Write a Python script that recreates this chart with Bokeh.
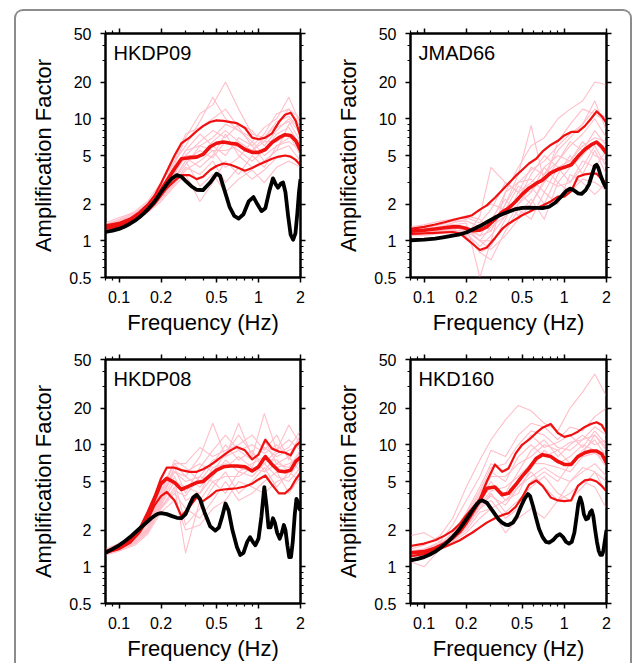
from bokeh.plotting import figure
from bokeh.models import (Range1d, FixedTicker, NumeralTickFormatter,
                          CustomJSTickFormatter, LogAxis, Label)
from bokeh.layouts import row, column
from bokeh.embed import file_html
from bokeh.resources import INLINE

# ---------------- data ----------------
x_ticks = [0.1, 0.2, 0.5, 1, 2]
x_minor = [0.08, 0.09, 0.3, 0.4, 0.6, 0.7, 0.8, 0.9]
y_ticks = [0.5, 1, 2, 5, 10, 20, 50]
y_minor = [0.6, 0.7, 0.8, 0.9, 3, 4, 6, 7, 8, 9, 30, 40]

stations = ["HKDP09", "JMAD66", "HKDP08", "HKD160"]

# frequency grid of the red (statistics) curves
freq_red = [0.08, 0.1, 0.12, 0.14, 0.16, 0.18, 0.2, 0.22, 0.25, 0.28, 0.32, 0.36, 0.4,
            0.45, 0.5, 0.56, 0.63, 0.7, 0.8, 0.9, 1.0, 1.12, 1.25, 1.4, 1.55, 1.7, 1.85, 2.0]
# frequency grid of the individual (pink) curves
freq_pink = [0.08, 0.1, 0.13, 0.16, 0.2, 0.25, 0.3, 0.38, 0.47, 0.58, 0.72, 0.9,
             1.1, 1.35, 1.65, 2.0]

# ---- HKDP09 ----
upper_hkdp09 = [1.34, 1.4, 1.52, 1.72, 1.98, 2.35, 2.95, 3.7, 5.0, 6.3, 7.0, 7.9, 8.7, 9.4,
                9.7, 9.6, 9.4, 9.2, 8.4, 7.0, 6.8, 7.0, 7.6, 9.4, 10.8, 11.2, 9.6, 7.1]
median_hkdp09 = [1.29, 1.35, 1.46, 1.63, 1.85, 2.15, 2.6, 3.1, 3.9, 4.7, 4.8, 4.85, 5.1, 5.9,
                 6.3, 6.45, 6.3, 6.2, 5.6, 5.3, 5.3, 5.6, 6.4, 7.0, 7.4, 7.3, 6.6, 5.5]
lower_hkdp09 = [1.25, 1.3, 1.4, 1.55, 1.75, 2.0, 2.35, 2.7, 3.1, 3.45, 3.45, 3.2, 3.35, 3.8,
                4.1, 4.3, 4.2, 4.0, 3.75, 3.95, 4.2, 4.45, 4.7, 4.9, 5.0, 4.9, 4.6, 4.16]
black_f_hkdp09 = [0.08, 0.09, 0.1, 0.11, 0.12, 0.13, 0.14, 0.15, 0.16, 0.18, 0.2, 0.22, 0.24,
                  0.26, 0.28, 0.3, 0.33, 0.36, 0.4, 0.45, 0.5, 0.53, 0.57, 0.62, 0.67, 0.72,
                  0.78, 0.85, 0.92, 0.98, 1.05, 1.12, 1.2, 1.27, 1.33, 1.38, 1.45, 1.5, 1.56,
                  1.63, 1.7, 1.77, 1.84, 1.9, 1.95, 2.0]
black_v_hkdp09 = [1.18, 1.21, 1.25, 1.31, 1.38, 1.46, 1.56, 1.67, 1.8, 2.1, 2.5, 2.9, 3.25,
                  3.45, 3.35, 3.1, 2.8, 2.62, 2.6, 3.0, 3.55, 3.4, 2.6, 1.9, 1.6, 1.52,
                  1.65, 2.1, 2.28, 2.0, 1.75, 1.85, 2.6, 3.25, 2.9, 2.72, 2.95, 3.0, 2.5,
                  1.6, 1.12, 1.02, 1.15, 1.7, 2.5, 3.2]
pink_hkdp09 = [
    [1.3, 1.4, 1.6, 1.95, 2.6, 4.2, 7.0, 11, 13, 20, 12, 7.5, 7.0, 9.5, 10.5, 8.0],
    [1.35, 1.5, 1.75, 2.1, 3.0, 4.5, 6.0, 9.5, 15, 10, 8.0, 6.5, 8.5, 10, 15, 9.0],
    [1.25, 1.35, 1.55, 1.8, 2.4, 3.5, 5.0, 6.5, 8.0, 7.0, 9.0, 8.0, 6.0, 8.0, 10, 7.5],
    [1.3, 1.4, 1.5, 1.8, 2.3, 3.2, 4.5, 5.5, 4.8, 6.5, 5.5, 4.5, 5.5, 7.5, 8.5, 6.0],
    [1.2, 1.3, 1.45, 1.7, 2.1, 2.8, 3.5, 2.1, 3.0, 4.5, 3.5, 5.0, 4.0, 6.0, 6.5, 5.5],
    [1.3, 1.45, 1.7, 2.0, 2.5, 3.8, 5.5, 7.5, 6.0, 5.0, 7.0, 6.0, 4.5, 5.5, 9.0, 10.5],
    [1.25, 1.4, 1.6, 1.85, 2.2, 3.0, 4.0, 3.5, 4.5, 3.0, 4.0, 3.2, 3.8, 4.8, 5.0, 4.2],
    [1.3, 1.4, 1.65, 2.0, 2.7, 4.0, 5.0, 5.0, 6.5, 8.0, 6.5, 5.5, 7.0, 9.0, 12, 10],
    [1.4, 1.55, 1.7, 1.9, 2.4, 3.3, 4.5, 2.8, 3.5, 2.5, 3.2, 3.8, 3.0, 4.0, 4.5, 4.0],
    [1.3, 1.45, 1.6, 1.8, 2.2, 2.9, 3.8, 4.5, 5.5, 4.0, 4.8, 6.5, 5.0, 6.0, 7.0, 6.5],
    [1.28, 1.38, 1.58, 1.9, 2.5, 3.6, 5.5, 6.0, 7.0, 9.0, 8.0, 7.0, 6.5, 8.5, 9.5, 6.5],
    [1.32, 1.42, 1.62, 1.95, 2.6, 4.5, 7.5, 8.5, 10, 12, 8.5, 6.0, 7.5, 11, 12, 8.5],
    [1.22, 1.33, 1.5, 1.75, 2.2, 3.2, 4.2, 6.0, 5.5, 5.5, 6.0, 5.5, 6.5, 6.5, 7.5, 5.0],
    [1.35, 1.48, 1.68, 2.0, 2.8, 3.8, 4.8, 4.0, 5.0, 7.5, 5.0, 4.0, 4.5, 5.5, 6.0, 4.5],
]

# ---- JMAD66 ----
upper_jmad66 = [1.25, 1.3, 1.36, 1.42, 1.48, 1.53, 1.57, 1.62, 1.8, 1.95, 2.25, 2.6, 2.95, 3.4,
                3.8, 4.3, 4.7, 5.4, 6.1, 6.6, 7.3, 7.8, 7.8, 8.7, 10.0, 11.5, 10.5, 9.2]
median_jmad66 = [1.2, 1.22, 1.25, 1.28, 1.3, 1.3, 1.26, 1.21, 1.22, 1.3, 1.5, 1.72, 1.85, 2.1,
                 2.4, 2.7, 2.95, 3.15, 3.6, 3.85, 4.0, 4.2, 4.9, 5.6, 6.1, 6.45, 5.9, 5.2]
lower_jmad66 = [1.14, 1.15, 1.16, 1.17, 1.18, 1.15, 1.04, 0.95, 0.84, 0.88, 1.05, 1.25, 1.38, 1.5,
                1.62, 1.72, 1.85, 1.95, 2.1, 2.3, 2.3, 2.55, 3.35, 3.5, 3.55, 3.55, 3.2, 2.95]
black_f_jmad66 = [0.08, 0.1, 0.12, 0.14, 0.16, 0.18, 0.2, 0.22, 0.25, 0.28, 0.32, 0.36, 0.4,
                  0.45, 0.5, 0.56, 0.63, 0.7, 0.78, 0.86, 0.95, 1.03, 1.1, 1.17, 1.25, 1.33,
                  1.42, 1.5, 1.58, 1.65, 1.7, 1.75, 1.82, 1.9, 2.0]
black_v_jmad66 = [1.01, 1.02, 1.04, 1.07, 1.1, 1.13, 1.17, 1.23, 1.32, 1.42, 1.55, 1.65, 1.73,
                  1.82, 1.86, 1.87, 1.86, 1.85, 1.9, 2.05, 2.3, 2.55, 2.68, 2.6, 2.45, 2.42,
                  2.6, 2.9, 3.5, 4.1, 4.2, 3.95, 3.4, 3.0, 2.68]
pink_jmad66 = [
    [1.2, 1.25, 1.3, 1.35, 1.4, 0.5, 1.0, 2.5, 4.0, 6.0, 7.0, 10, 12, 14, 20, 19],
    [1.15, 1.2, 1.25, 1.3, 1.2, 0.8, 0.9, 1.5, 2.5, 3.0, 4.0, 5.0, 4.5, 6.0, 7.0, 6.5],
    [1.1, 1.15, 1.2, 1.2, 1.1, 1.6, 4.0, 3.0, 2.5, 4.0, 3.5, 5.5, 7.0, 9.0, 14, 8.0],
    [1.25, 1.3, 1.4, 1.5, 1.6, 1.5, 1.2, 2.0, 3.5, 8.8, 3.0, 4.5, 6.0, 7.5, 10, 7.0],
    [1.1, 1.1, 1.15, 1.2, 1.1, 0.8, 0.7, 1.2, 1.8, 1.5, 2.5, 2.0, 3.5, 3.0, 2.4, 3.0],
    [1.2, 1.25, 1.3, 1.35, 1.3, 1.1, 1.5, 2.2, 1.6, 2.2, 1.5, 3.0, 4.0, 5.0, 6.5, 5.0],
    [1.15, 1.2, 1.25, 1.3, 1.25, 1.0, 1.3, 1.6, 2.2, 3.5, 5.0, 4.0, 3.0, 4.5, 4.0, 5.5],
    [1.3, 1.35, 1.45, 1.5, 1.55, 1.4, 1.8, 3.0, 2.5, 2.0, 3.0, 6.5, 9.0, 12, 11, 9.5],
    [1.1, 1.15, 1.2, 1.25, 1.3, 1.0, 1.0, 1.3, 2.0, 2.8, 2.0, 3.5, 5.0, 3.5, 5.5, 3.5],
    [1.2, 1.25, 1.3, 1.4, 1.5, 1.8, 2.0, 1.8, 2.8, 2.5, 4.0, 3.0, 2.5, 3.2, 3.0, 2.6],
    [1.2, 1.22, 1.28, 1.3, 1.25, 1.1, 1.2, 2.0, 3.0, 3.8, 4.5, 6.0, 7.5, 9.0, 12, 10],
    [1.15, 1.18, 1.22, 1.25, 1.15, 0.9, 1.1, 1.6, 2.0, 2.5, 3.5, 4.5, 6.5, 5.5, 8.0, 6.0],
    [1.25, 1.28, 1.35, 1.45, 1.45, 1.3, 1.4, 2.5, 3.0, 3.2, 2.5, 4.0, 4.5, 6.5, 5.0, 4.5],
    [1.12, 1.15, 1.2, 1.22, 1.2, 1.0, 0.85, 1.1, 1.5, 2.0, 3.2, 2.8, 3.0, 4.0, 6.0, 4.0],
]

# ---- HKDP08 ----
upper_hkdp08 = [1.35, 1.45, 1.65, 2.05, 2.8, 3.8, 5.3, 6.5, 6.5, 6.2, 6.0, 6.0, 6.3, 6.8,
                7.4, 8.2, 9.0, 9.6, 9.0, 7.6, 8.3, 11.0, 9.3, 8.8, 8.6, 8.2, 9.8, 10.6]
median_hkdp08 = [1.32, 1.42, 1.6, 1.95, 2.6, 3.6, 4.8, 5.3, 4.9, 4.3, 4.6, 4.9, 5.0, 5.6,
                 6.2, 6.6, 6.7, 6.7, 6.6, 6.1, 6.6, 8.0, 6.9, 6.1, 6.0, 6.2, 7.3, 7.9]
lower_hkdp08 = [1.3, 1.4, 1.58, 1.9, 2.4, 3.2, 3.8, 4.1, 3.5, 2.6, 3.1, 3.7, 3.45, 3.8,
                4.2, 4.3, 4.35, 4.4, 4.55, 4.8, 5.2, 5.6, 4.7, 4.0, 4.0, 4.4, 5.2, 5.9]
black_f_hkdp08 = [0.08, 0.09, 0.1, 0.11, 0.12, 0.13, 0.14, 0.15, 0.16, 0.17, 0.18, 0.19, 0.2,
                  0.22, 0.24, 0.26, 0.28, 0.3, 0.32, 0.34, 0.36, 0.38, 0.41, 0.45, 0.49, 0.52,
                  0.55, 0.58, 0.61, 0.65, 0.7, 0.74, 0.78, 0.83, 0.87, 0.91, 0.95, 1.0, 1.05,
                  1.1, 1.14, 1.18, 1.22, 1.27, 1.31, 1.36, 1.42, 1.47, 1.52, 1.56, 1.61, 1.66,
                  1.71, 1.76, 1.82, 1.87, 1.92, 1.96, 2.0]
black_v_hkdp08 = [1.3, 1.4, 1.5, 1.62, 1.75, 1.9, 2.05, 2.2, 2.35, 2.5, 2.62, 2.72, 2.75,
                  2.7, 2.6, 2.52, 2.5, 2.7, 3.2, 3.7, 3.9, 3.6, 2.8, 2.15, 1.98, 2.1,
                  2.6, 3.3, 2.9, 2.0, 1.45, 1.25, 1.3, 1.6, 1.75, 1.6, 1.5, 1.7, 2.6,
                  4.5, 3.2, 2.1, 2.1, 2.5, 2.3, 1.9, 1.7, 1.9, 2.2, 2.0, 1.5, 1.2,
                  1.2, 1.6, 2.7, 3.6, 3.4, 3.0, 2.9]
pink_hkdp08 = [
    [1.35, 1.45, 1.7, 2.2, 4.5, 7.0, 5.5, 8.0, 15, 8.0, 15, 8.0, 18, 9.0, 14.5, 10],
    [1.3, 1.4, 1.6, 2.0, 3.5, 6.5, 4.0, 6.5, 9.0, 12, 9.0, 10, 8.5, 10, 8.0, 12],
    [1.25, 1.35, 1.55, 1.9, 3.0, 4.5, 1.3, 3.5, 5.0, 4.0, 6.0, 5.5, 7.0, 5.5, 5.0, 6.5],
    [1.4, 1.5, 1.75, 2.3, 4.0, 7.5, 6.5, 5.0, 7.0, 10, 7.5, 9.0, 6.0, 8.5, 9.5, 13],
    [1.3, 1.4, 1.6, 2.05, 3.2, 5.0, 2.2, 3.0, 4.5, 6.0, 4.0, 5.0, 6.5, 4.5, 6.0, 5.0],
    [1.35, 1.45, 1.65, 2.1, 3.8, 6.0, 5.5, 4.5, 6.0, 6.5, 8.0, 6.5, 11, 7.0, 6.5, 9.0],
    [1.3, 1.4, 1.55, 1.95, 3.0, 4.0, 3.0, 2.5, 3.5, 5.0, 3.5, 4.0, 5.0, 6.0, 4.0, 5.5],
    [1.4, 1.55, 1.8, 2.3, 4.2, 7.0, 7.0, 9.5, 8.0, 9.0, 10, 12, 9.0, 12, 7.5, 11],
    [1.3, 1.4, 1.6, 2.0, 3.4, 5.5, 3.5, 4.0, 5.5, 7.5, 6.0, 7.0, 8.0, 6.5, 7.0, 8.0],
    [1.25, 1.35, 1.5, 1.85, 2.8, 3.5, 2.0, 2.2, 3.0, 3.5, 5.0, 4.5, 4.0, 5.0, 5.5, 7.5],
    [1.32, 1.42, 1.62, 2.05, 3.6, 6.0, 5.0, 5.5, 7.5, 8.0, 9.0, 7.5, 9.5, 8.0, 9.0, 10],
    [1.28, 1.38, 1.58, 1.95, 3.3, 5.0, 4.5, 4.0, 6.5, 7.0, 6.5, 6.0, 7.5, 7.5, 6.0, 8.5],
    [1.35, 1.48, 1.7, 2.2, 3.9, 6.5, 6.0, 7.0, 6.0, 8.5, 12, 8.5, 7.0, 9.0, 11, 9.0],
    [1.3, 1.4, 1.6, 2.0, 3.1, 4.2, 3.8, 5.5, 5.0, 5.5, 5.5, 6.5, 6.0, 7.0, 8.0, 6.0],
]

# ---- HKD160 ----
upper_hkd160 = [1.48, 1.55, 1.65, 1.8, 1.98, 2.25, 2.65, 3.0, 3.6, 5.0, 6.9, 6.0, 6.4, 8.5,
                10, 11, 12.5, 13.8, 14.8, 12.5, 11.6, 12, 12.8, 14, 14.8, 15.3, 14.5, 12.5]
median_hkd160 = [1.3, 1.33, 1.42, 1.55, 1.72, 1.95, 2.3, 2.75, 3.5, 4.4, 4.5, 3.9, 4.0, 4.7,
                 5.5, 6.4, 7.7, 8.3, 8.0, 7.3, 6.9, 6.9, 8.0, 8.6, 8.9, 8.9, 8.4, 7.1]
lower_hkd160 = [1.22, 1.27, 1.35, 1.45, 1.55, 1.65, 1.78, 1.9, 2.1, 2.3, 2.5, 2.65, 2.75, 3.1,
                3.7, 4.7, 5.1, 4.6, 3.7, 3.5, 3.45, 3.5, 4.6, 5.1, 5.2, 5.0, 4.6, 4.15]
black_f_hkd160 = [0.08, 0.09, 0.1, 0.11, 0.12, 0.13, 0.14, 0.15, 0.16, 0.17, 0.18, 0.19, 0.2,
                  0.21, 0.22, 0.23, 0.24, 0.25, 0.26, 0.28, 0.3, 0.32, 0.34, 0.36, 0.38, 0.4,
                  0.43, 0.46, 0.49, 0.52, 0.55, 0.57, 0.6, 0.63, 0.66, 0.7, 0.74, 0.78, 0.83,
                  0.88, 0.93, 0.98, 1.03, 1.08, 1.13, 1.18, 1.22, 1.26, 1.3, 1.34, 1.38, 1.43,
                  1.48, 1.53, 1.57, 1.61, 1.66, 1.71, 1.76, 1.81, 1.86, 1.9, 1.95, 2.0]
black_v_hkd160 = [1.13, 1.16, 1.2, 1.26, 1.33, 1.42, 1.52, 1.63, 1.76, 1.9, 2.06, 2.25, 2.45,
                  2.65, 2.88, 3.1, 3.3, 3.45, 3.5, 3.35, 3.0, 2.7, 2.45, 2.3, 2.22, 2.2,
                  2.3, 2.6, 3.1, 3.6, 3.95, 3.8, 3.1, 2.5, 2.05, 1.75, 1.6, 1.58, 1.65,
                  1.78, 1.85, 1.75, 1.6, 1.55, 1.6, 1.9, 2.5, 3.3, 3.7, 3.3, 2.7, 2.45,
                  2.5, 2.8, 2.9, 2.6, 2.0, 1.6, 1.35, 1.25, 1.25, 1.35, 1.65, 2.0]
pink_hkd160 = [
    [1.4, 1.5, 1.8, 2.5, 4.5, 7.5, 11, 16, 21, 19, 15, 13, 20, 27, 38, 25],
    [1.3, 1.4, 1.6, 2.2, 3.5, 5.5, 9.0, 8.0, 12, 15, 14, 11, 14, 13, 17, 20],
    [1.1, 1.0, 1.4, 1.7, 2.4, 3.5, 4.5, 4.0, 6.0, 9.0, 11, 8.0, 10, 12, 10, 11],
    [1.8, 1.9, 1.6, 1.7, 2.1, 3.0, 3.5, 2.5, 3.0, 5.0, 6.0, 5.0, 7.0, 8.5, 12, 9.5],
    [1.2, 1.25, 1.4, 1.6, 1.9, 2.5, 3.0, 3.5, 4.5, 6.0, 4.5, 3.5, 4.0, 5.0, 4.5, 3.0],
    [1.3, 1.35, 1.5, 1.8, 2.6, 4.0, 6.0, 5.0, 8.0, 10, 8.0, 9.0, 7.0, 9.0, 11, 8.0],
    [1.2, 1.3, 1.45, 1.65, 2.0, 2.8, 3.0, 1.9, 2.5, 3.0, 2.5, 3.5, 5.0, 6.0, 7.0, 5.5],
    [1.25, 1.3, 1.5, 1.75, 2.3, 3.5, 5.0, 3.5, 4.0, 6.5, 9.0, 7.0, 8.0, 10, 9.0, 6.5],
    [1.35, 1.4, 1.55, 1.9, 2.8, 4.5, 7.0, 6.0, 9.0, 12, 9.5, 10.5, 12, 9.5, 13, 10],
    [1.2, 1.3, 1.45, 1.7, 2.2, 3.0, 4.0, 2.8, 3.5, 4.5, 5.5, 4.0, 3.5, 4.5, 6.0, 4.0],
    [1.28, 1.32, 1.48, 1.75, 2.4, 3.8, 5.5, 5.5, 7.0, 8.0, 10, 9.0, 10.5, 11, 12, 9.0],
    [1.22, 1.28, 1.42, 1.62, 2.1, 3.2, 4.2, 4.5, 5.5, 7.0, 7.0, 6.5, 6.0, 8.0, 8.5, 7.5],
    [1.3, 1.35, 1.52, 1.85, 2.7, 4.2, 6.5, 7.0, 10, 13, 12, 9.5, 9.0, 11, 14, 12],
    [1.25, 1.3, 1.45, 1.7, 2.2, 3.2, 3.8, 3.2, 4.5, 5.5, 6.5, 5.5, 5.0, 6.5, 6.0, 5.0],
]

# ---------------- styling ----------------
FONT = "Liberation Sans"
PINK = "#ffbfca"
RED = "#f01010"


def style_axis(ax):
    ax.axis_line_color = "black"
    ax.axis_line_width = 2
    ax.major_tick_line_color = "black"
    ax.major_tick_line_width = 1.5
    ax.minor_tick_line_color = "black"
    ax.minor_tick_line_width = 1.2
    ax.major_tick_in = 0
    ax.major_tick_out = 5
    ax.minor_tick_in = 0
    ax.minor_tick_out = 3
    ax.major_label_text_font = FONT
    ax.major_label_text_font_size = "16px"
    ax.major_label_text_color = "black"
    ax.axis_label_text_font = FONT
    ax.axis_label_text_font_size = "22px"
    ax.axis_label_text_font_style = "normal"
    ax.axis_label_text_color = "black"


def make_panel(name, bf, bv, up, md, lo, pinks, left, right):
    p = figure(width=307, height=326, x_axis_type="log", y_axis_type="log",
               x_range=Range1d(0.08, 2), y_range=Range1d(0.5, 50),
               output_backend="svg", toolbar_location=None,
               min_border_left=left, min_border_right=right,
               min_border_top=22, min_border_bottom=60)
    p.xgrid.visible = False
    p.ygrid.visible = False
    p.outline_line_color = "black"
    p.outline_line_width = 2
    p.background_fill_color = "white"
    p.border_fill_color = "white"

    xt = FixedTicker(ticks=x_ticks, minor_ticks=x_minor)
    yt = FixedTicker(ticks=y_ticks, minor_ticks=y_minor)

    xa = p.xaxis[0]
    xa.ticker = xt
    xa.formatter = NumeralTickFormatter(format="0.[0]")
    xa.axis_label = "Frequency (Hz)"
    style_axis(xa)
    xa.major_label_standoff = 8
    xa.axis_label_standoff = 4

    ya = p.yaxis[0]
    ya.ticker = yt
    ya.formatter = NumeralTickFormatter(format="0.[0]")
    ya.axis_label = "Amplification Factor"
    style_axis(ya)
    ya.major_label_standoff = 9
    ya.axis_label_standoff = 10

    for loc, tk in (("above", xt), ("right", yt)):
        ax = LogAxis(ticker=tk, formatter=CustomJSTickFormatter(code="return ''"))
        style_axis(ax)
        ax.major_label_text_font_size = "0px"
        ax.major_label_standoff = 0
        p.add_layout(ax, loc)

    for pv in pinks:
        p.line(freq_pink, pv, line_color=PINK, line_width=1.1, line_join="round")
    p.line(freq_red, up, line_color=RED, line_width=2.2, line_join="round")
    p.line(freq_red, lo, line_color=RED, line_width=2.2, line_join="round")
    p.line(freq_red, md, line_color=RED, line_width=3.6, line_join="round")
    p.line(bf, bv, line_color="black", line_width=3.8, line_join="round")

    p.add_layout(Label(x=8, y=236, x_units="screen", y_units="screen", text=name,
                       text_font=FONT, text_font_size="20px", text_baseline="top",
                       text_color="black"))
    return p


p1 = make_panel(stations[0], black_f_hkdp09, black_v_hkdp09, upper_hkdp09, median_hkdp09,
                lower_hkdp09, pink_hkdp09, 89, 23)
p2 = make_panel(stations[1], black_f_jmad66, black_v_jmad66, upper_jmad66, median_jmad66,
                lower_jmad66, pink_jmad66, 87, 24)
p3 = make_panel(stations[2], black_f_hkdp08, black_v_hkdp08, upper_hkdp08, median_hkdp08,
                lower_hkdp08, pink_hkdp08, 89, 23)
p4 = make_panel(stations[3], black_f_hkd160, black_v_hkd160, upper_hkd160, median_hkd160,
                lower_hkd160, pink_hkd160, 87, 24)

layout = column(row(p1, p2), row(p3, p4), styles={
    "position": "relative", "left": "14px", "top": "9px",
    "border-top": "2px solid #8c8c8c", "border-left": "2px solid #8c8c8c",
    "border-right": "2px solid #8c8c8c", "border-radius": "9px 9px 0 0",
    "box-sizing": "border-box", "width": "618px", "height": "654px",
    "overflow": "hidden"})

open("out.html", "w").write(file_html(layout, INLINE))
